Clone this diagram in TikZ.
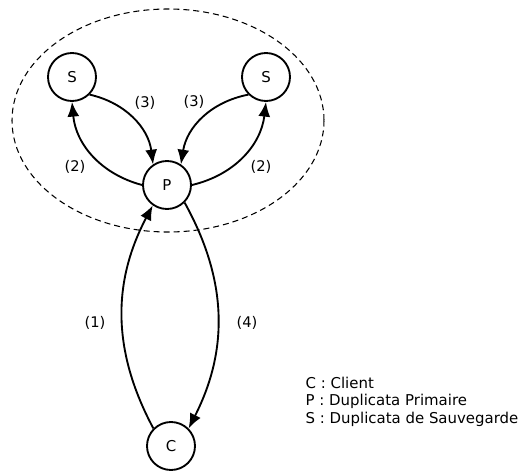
\documentclass[tikz,border=0pt]{standalone}
\usepackage{fontspec}
\setmainfont{DejaVu Sans}
\usepackage{tikz}
\usetikzlibrary{arrows.meta}

\tikzset{
	site/.style={draw, circle, line width=1.4pt, minimum size=36pt, inner sep=0pt},
	msg/.style={->, >={Latex[length=11pt, width=9pt]}, line width=1.4pt},
	lbl/.style={font=\fontsize{11}{13}\selectfont},
}

\begin{document}
\begin{tikzpicture}[x=0.75pt, y=-0.75pt, font=\fontsize{11.2}{13}\selectfont]
	  \useasboundingbox (0,0) rectangle (521,471);
	  \draw[dashed, line width=0.8pt, dash pattern=on 4.5pt off 3pt] (168,120.5) ellipse [x radius=156, y radius=111.5];
	  \node[site] (sl) at (72,77) {S};
	  \node[site] (sr) at (266,77) {S};
	  \node[site] (p) at (167,185) {P};
	  \node[site] (c) at (171,446) {C};
	  \foreach \i / \pos / \txt in {1/{(95,323)}/(1), 2/{(75,167)}/(2), 3/{(261,167)}/(2),
	                                4/{(145,103)}/(3), 5/{(194,102)}/(3), 6/{(247,323)}/(4)}
	  {
		\node[lbl] (lab\i) at \pos {\txt};
	  }
	  \draw[msg] (c.135) to[bend left=28] (p.235);
	  \draw[msg] (p.180) to[bend left=35] (sl.270);
	  \draw[msg] (p.0) to[bend right=35] (sr.270);
	  \draw[msg] (sl.-45) to[bend left=35] (p.124);
	  \draw[msg] (sr.225) to[bend right=35] (p.56);
	  \draw[msg] (p.-45) to[bend left=28] (c.45);
	  \node[anchor=west] (kc) at (301,383) {C : Client};
	  \node[anchor=west] (kp) at (301,401) {P : Duplicata Primaire};
	  \node[anchor=west] (ks) at (301,419) {S : Duplicata de Sauvegarde};
	\end{tikzpicture}
\end{document}
